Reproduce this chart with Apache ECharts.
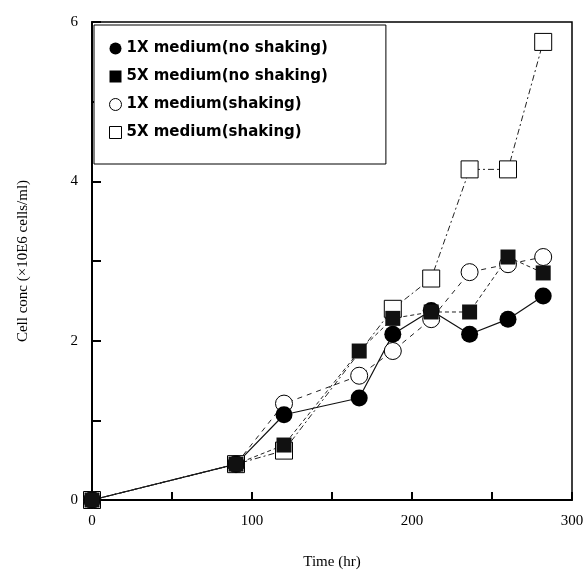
<!DOCTYPE html>
<html>
<head>
<meta charset="utf-8">
<script src="https://cdn.jsdelivr.net/npm/echarts@6/dist/echarts.min.js"></script>
<style>
  html, body { margin: 0; padding: 0; background: #fff; }
  #chart { width: 584px; height: 571px; }
</style>
</head>
<body>
<div id="chart"></div>
<script>
// time points (hr)
var times = [0, 90, 120, 167, 188, 212, 236, 260, 282];

// cell conc (x10E6 cells/ml)
var oneXNoShake = [0, 0.45, 1.07, 1.28, 2.08, 2.38, 2.08, 2.27, 2.56];
var fiveXNoShake = [0, 0.45, 0.69, 1.87, 2.28, 2.36, 2.36, 3.05, 2.85];
var oneXShake = [0, 0.45, 1.21, 1.56, 1.87, 2.27, 2.86, 2.96, 3.05];
var fiveXShake = [0, 0.45, 0.62, null, 2.4, 2.78, 4.15, 4.15, 5.75];

var names = ['1X medium(no shaking)', '5X medium(no shaking)', '1X medium(shaking)', '5X medium(shaking)'];

function pairs(vals) {
    return times.map(function (t, i) { return [t, vals[i]]; });
}

var myChart = echarts.init(document.getElementById('chart'));

var option = {
    animation: false,
    backgroundColor: '#fff',
    grid: {
        left: 92,
        right: 12,
        top: 22,
        bottom: 71,
        outerBoundsMode: 'none',
        show: true,
        borderColor: '#000',
        borderWidth: 1.5
    },
    legend: {
        left: 94,
        top: 25,
        orient: 'vertical',
        itemGap: 13,
        itemWidth: 12,
        itemHeight: 12,
        padding: [16, 58, 24, 15],
        backgroundColor: '#fff',
        borderColor: '#000',
        borderWidth: 1,
        textStyle: {
            fontFamily: 'DejaVu Sans',
            fontWeight: 'bold',
            fontSize: 15,
            color: '#000'
        },
        data: [
            { name: names[0], icon: 'circle', itemStyle: { color: '#000', borderWidth: 0 } },
            { name: names[1], icon: 'rect', itemStyle: { color: '#000', borderWidth: 0 } },
            { name: names[2], icon: 'circle', itemStyle: { color: '#fff', borderColor: '#000', borderWidth: 1 } },
            { name: names[3], icon: 'rect', itemStyle: { color: '#fff', borderColor: '#000', borderWidth: 1 } }
        ]
    },
    xAxis: {
        type: 'value',
        min: 0,
        max: 300,
        interval: 50,
        name: 'Time (hr)',
        nameLocation: 'middle',
        nameGap: 55,
        nameTextStyle: { fontFamily: 'Liberation Serif', fontSize: 15, color: '#000' },
        axisLine: { lineStyle: { color: '#000', width: 2 } },
        axisTick: { inside: true, length: 8, lineStyle: { color: '#000', width: 2 } },
        splitLine: { show: false },
        axisLabel: {
            margin: 14,
            fontFamily: 'Liberation Serif',
            fontSize: 15,
            color: '#000',
            formatter: function (v) { return v % 100 === 0 ? String(v) : ''; }
        }
    },
    yAxis: {
        type: 'value',
        min: 0,
        max: 6,
        interval: 1,
        name: 'Cell conc (×10E6 cells/ml)',
        nameLocation: 'middle',
        nameGap: 61,
        nameTextStyle: { fontFamily: 'Liberation Serif', fontSize: 15, color: '#000' },
        axisLine: { lineStyle: { color: '#000', width: 2 } },
        axisTick: { inside: true, length: 9, lineStyle: { color: '#000', width: 2 } },
        splitLine: { show: false },
        axisLabel: {
            margin: 14,
            fontFamily: 'Liberation Serif',
            fontSize: 15,
            color: '#000',
            formatter: function (v) { return v % 2 === 0 ? String(v) : ''; }
        }
    },
    series: [
        {
            name: names[3],
            type: 'line',
            data: pairs(fiveXShake),
            connectNulls: true,
            symbol: 'rect',
            symbolSize: 17,
            itemStyle: { color: '#fff', borderColor: '#000', borderWidth: 1 },
            lineStyle: { color: '#222', width: 1, type: [6, 3, 2, 3] }
        },
        {
            name: names[2],
            type: 'line',
            data: pairs(oneXShake),
            symbol: 'circle',
            symbolSize: 17,
            itemStyle: { color: '#fff', borderColor: '#000', borderWidth: 1 },
            lineStyle: { color: '#222', width: 1, type: [5, 5] }
        },
        {
            name: names[0],
            type: 'line',
            data: pairs(oneXNoShake),
            symbol: 'circle',
            symbolSize: 17,
            itemStyle: { color: '#000', borderWidth: 0 },
            lineStyle: { color: '#111', width: 1.2, type: 'solid' }
        },
        {
            name: names[1],
            type: 'line',
            data: pairs(fiveXNoShake),
            symbol: 'rect',
            symbolSize: 15,
            itemStyle: { color: '#111', borderWidth: 0 },
            lineStyle: { color: '#222', width: 1, type: [4, 3] }
        }
    ]
};

myChart.setOption(option);
</script>
</body>
</html>
